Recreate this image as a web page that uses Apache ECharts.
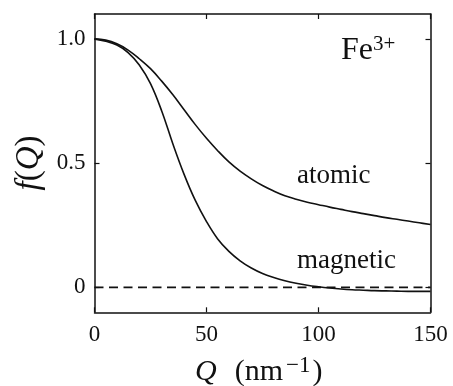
<!DOCTYPE html>
<html><head><meta charset="utf-8">
<script src="https://cdn.jsdelivr.net/npm/echarts@6/dist/echarts.min.js"></script>
<style>html,body{margin:0;padding:0;background:#fff}#c{width:453px;height:386px}</style>
</head><body><div id="c"></div>
<script>
const qValues = [0,5,10,15,20,25,30,35,40,45,50,55,60,65,70,75,80,85,90,95,100,105,110,115,120,125,130,135,140,145,150];
const atomic = [1.0,0.995,0.98,0.955,0.92,0.88,0.83,0.775,0.715,0.655,0.60,0.55,0.505,0.468,0.437,0.41,0.388,0.369,0.355,0.343,0.333,0.323,0.314,0.305,0.297,0.289,0.281,0.274,0.267,0.26,0.253];
const magnetic = [1.0,0.99,0.975,0.945,0.895,0.82,0.71,0.577,0.455,0.35,0.265,0.195,0.145,0.107,0.078,0.056,0.04,0.027,0.017,0.009,0.003,-0.002,-0.006,-0.009,-0.011,-0.013,-0.014,-0.015,-0.016,-0.016,-0.016];
const zeroLine = [[0,0],[150,0]];
const xTicks = [0,50,100,150];
const yTicks = [0,0.5,1.0];
const yTickLabels = {"0":"0","0.5":"0.5","1":"1.0"};

const font = "'Liberation Serif','DejaVu Serif',serif";
const ink = '#111';
const chart = echarts.init(document.getElementById('c'), null, {renderer:'canvas'});
const axisLine = {show:true, onZero:false, lineStyle:{color:ink, width:1.5}};
const tick = {show:true, inside:true, length:5, lineStyle:{color:ink, width:1.2}};
chart.setOption({
  animation:false,
  backgroundColor:'#fff',
  grid:{left:94.5, right:22.5, top:14, bottom:73.7, containLabel:false},
  xAxis:[
    {type:'value', min:0, max:150, position:'bottom', axisLine, splitLine:{show:false},
     axisTick:Object.assign({}, tick, {customValues:xTicks}),
     axisLabel:{customValues:xTicks, color:ink, fontFamily:font, fontSize:23, margin:11}},
    {type:'value', min:0, max:150, position:'top', axisLine, splitLine:{show:false},
     axisTick:Object.assign({}, tick, {customValues:xTicks}), axisLabel:{show:false}}
  ],
  yAxis:[
    {type:'value', min:-0.1, max:1.1, position:'left', axisLine, splitLine:{show:false},
     axisTick:Object.assign({}, tick, {customValues:yTicks}),
     axisLabel:{customValues:yTicks, color:ink, fontFamily:font, fontSize:23, margin:9,
       formatter:v=>yTickLabels[String(v)] ?? String(v)}},
    {type:'value', min:-0.1, max:1.1, position:'right', axisLine, splitLine:{show:false},
     axisTick:Object.assign({}, tick, {customValues:yTicks}), axisLabel:{show:false}}
  ],
  series:[
    {type:'line', name:'atomic', data:qValues.map((q,i)=>[q,atomic[i]]), smooth:0.4, showSymbol:false,
     lineStyle:{color:ink, width:1.6}, z:3},
    {type:'line', name:'magnetic', data:qValues.map((q,i)=>[q,magnetic[i]]), smooth:0.4, showSymbol:false,
     lineStyle:{color:ink, width:1.6}, z:3},
    {type:'line', name:'zero', data:zeroLine, showSymbol:false,
     lineStyle:{color:ink, width:1.8, type:[9,5.5]}, z:2}
  ],
  graphic:[
    {type:'text', left:341, top:34, style:{text:'Fe{s|3+}', fontFamily:font, fontSize:32, fill:ink,
      rich:{s:{fontSize:21, fontFamily:font, fill:ink, verticalAlign:'top', padding:[0,0,12,0]}}}},
    {type:'text', left:297, top:162, style:{text:'atomic', fontFamily:font, fontSize:27, fill:ink}},
    {type:'text', left:297, top:247, style:{text:'magnetic', fontFamily:font, fontSize:27, fill:ink}},
    {type:'text', left:195, top:354, style:{text:'{i|Q}(nm{s|−1})', fontFamily:font, fontSize:30, fill:ink,
      rich:{i:{fontStyle:'italic', fontFamily:font, fontSize:30, fill:ink, padding:[0,18,0,0]},
            s:{fontSize:23, fontFamily:font, fill:ink, verticalAlign:'top', padding:[0,2,13,3]}}}},
    {type:'text', x:29, y:163, rotation:Math.PI/2, style:{text:'{i|f}({i|Q})', fontFamily:font, fontSize:33, fill:ink,
      align:'center', verticalAlign:'middle',
      rich:{i:{fontStyle:'italic', fontFamily:font, fontSize:33, fill:ink}}}}
  ]
});
</script></body></html>
